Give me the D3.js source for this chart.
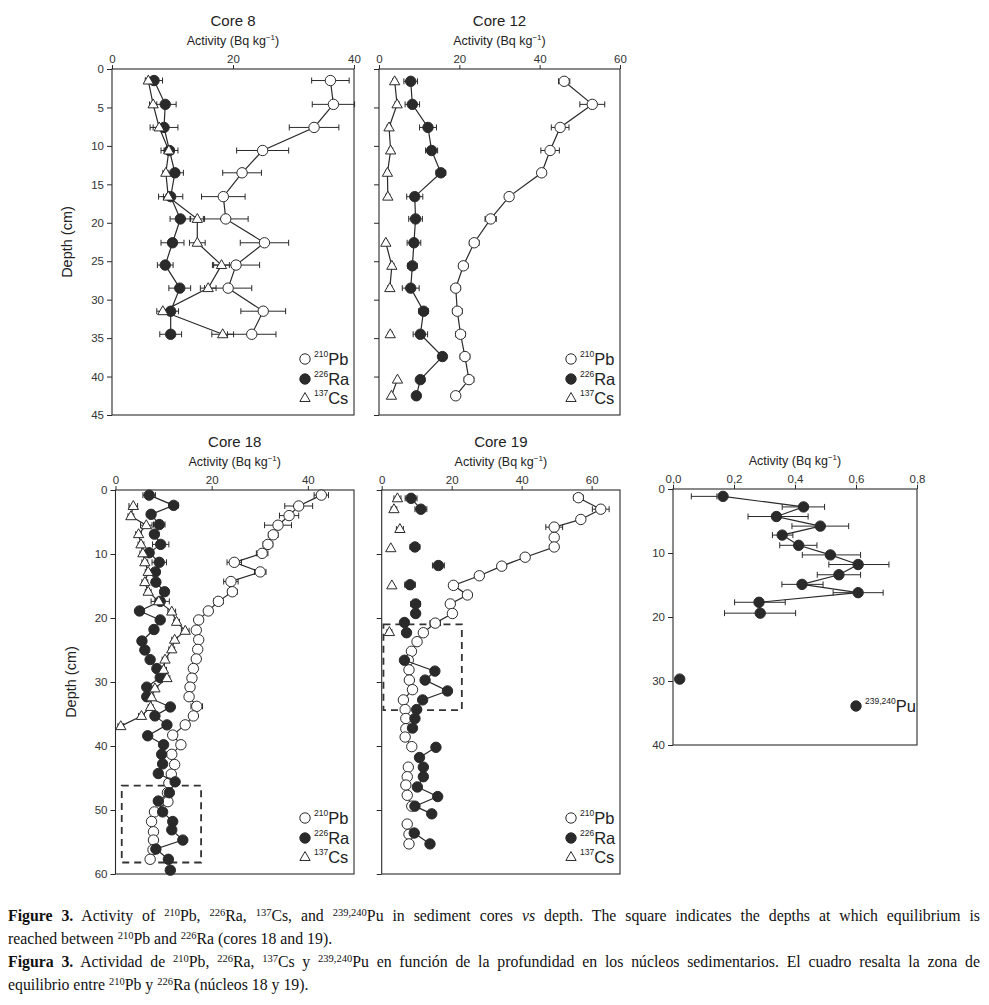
<!DOCTYPE html>
<html><head><meta charset="utf-8">
<script src="https://cdn.jsdelivr.net/npm/d3@7"></script>
<style>
html,body{margin:0;padding:0;background:#fff;overflow:hidden;}
#chart{position:absolute;left:0;top:0;}
#cap{position:absolute;left:8px;top:904px;width:972px;font-family:"Liberation Serif","Times New Roman",serif;font-size:15.8px;line-height:23px;color:#111;}
#cap div{white-space:nowrap;height:23px;}
#cap div.j{text-align:justify;text-align-last:justify;}
#cap sup{font-size:10.5px;line-height:0;vertical-align:5px;}
</style></head><body>
<svg id="chart" width="989" height="900"></svg>
<div id="cap"></div>
<script>
// ---------------- DATA ----------------
// Core 8
const core8Depth = [1.5, 4.6, 7.6, 10.6, 13.5, 16.6, 19.5, 22.6, 25.5, 28.5, 31.5, 34.5];
const core8Pb    = [36.1, 36.6, 33.4, 24.9, 21.5, 18.4, 18.8, 25.2, 20.5, 19.2, 25.0, 23.1];
const core8PbErr = [3.1, 3.5, 4.1, 4.3, 3.2, 3.6, 3.7, 4.0, 3.9, 3.9, 3.7, 4.0];
const core8Ra    = [6.95, 8.8, 8.6, 9.5, 10.4, 9.7, 11.3, 10.0, 8.8, 11.2, 9.7, 9.7];
const core8RaErr = [1.4, 1.8, 2.3, 1.4, 1.4, 2.0, 1.7, 1.9, 1.3, 1.8, 1.3, 1.8];
const core8Cs    = [6.0, 6.8, 7.8, 9.4, 8.9, 9.3, 14.1, 14.1, 18.1, 15.9, 8.4, 18.3];
const core8CsErr = [0.5, 0.6, 1.0, 0.8, 0.5, 0.8, 1.2, 1.3, 1.3, 1.3, 1.0, 1.8];

// Core 12
const core12Depth = [1.6, 4.6, 7.6, 10.6, 13.5, 16.6, 19.5, 22.6, 25.6, 28.5, 31.5, 34.5, 37.4, 40.4, 42.5];
const core12Pb    = [46.1, 53.1, 45.1, 42.6, 40.5, 32.4, 27.8, 23.7, 21.0, 19.1, 19.5, 20.3, 21.4, 22.4, 19.1];
const core12PbErr = [1.4, 3.1, 2.2, 2.3, 1.0, 1.0, 1.4, 1.2, 1.1, 1.1, 1.2, 1.2, 1.2, 1.2, 0];
const core12Ra    = [7.9, 8.3, 12.2, 13.1, 15.4, 8.9, 9.1, 8.7, 8.3, 7.9, 11.1, 10.3, 15.8, 10.3, 9.3];
const core12RaErr = [1.7, 1.8, 2.1, 1.5, 1.2, 2.0, 1.7, 1.7, 1.2, 2.1, 1.2, 1.8, 0, 0, 0];
const core12Cs    = [3.9, 4.5, 2.5, 2.9, 2.1, 2.2, null, 1.7, 3.2, 2.7, null, 2.8, null, 4.6, 3.1];
const core12CsErr = [0.5, 0.5, 0.5, 0.5, 0.5, 0.5, null, 0.4, 0.5, 0.5, null, 0.5, null, 0, 0];

// Core 18
const core18PbDepth = [0.8, 2.5, 4.0, 5.5, 7.0, 8.5, 9.9, 11.3, 12.8, 14.3, 15.9, 17.4, 18.9, 20.3, 21.9, 23.4, 24.9, 26.4, 27.9, 29.4, 30.8, 32.3, 33.8, 35.3, 36.7, 38.3, 39.8, 41.3, 42.9, 44.4, 45.8, 47.3, 48.7, 50.3, 51.8, 53.4, 54.7, 56.2, 57.7];
const core18Pb      = [42.8, 38.1, 36.1, 33.8, 32.8, 31.7, 30.5, 24.7, 30.1, 24.0, 24.3, 21.4, 19.3, 17.3, 16.8, 17.3, 17.1, 16.8, 16.2, 15.9, 15.5, 15.3, 16.9, 16.2, 14.5, 11.9, 13.6, 11.7, 12.3, 11.6, 11.1, 10.8, 10.9, 8.1, 7.5, 7.9, 7.9, 7.8, 7.2];
const core18PbErr   = [1.5, 2.9, 2.0, 2.8, 1.0, 1.0, 1.2, 1.5, 1.2, 1.5, 1.0, 1.0, 0, 0, 0, 0, 0, 0, 0, 0, 0, 0, 1.2, 0, 0, 0, 0, 0, 0, 0, 0, 0, 0, 0, 0, 0, 0, 0, 0];
const core18RaDepth = [0.8, 2.4, 3.8, 5.4, 6.9, 8.5, 9.8, 11.3, 12.8, 14.4, 15.9, 17.4, 18.9, 20.3, 21.8, 23.6, 25.0, 26.5, 27.9, 29.3, 30.8, 32.3, 33.9, 35.3, 36.7, 38.4, 39.8, 41.3, 42.8, 44.3, 45.6, 47.3, 48.6, 50.3, 51.8, 53.1, 54.7, 56.1, 57.7, 59.4];
const core18Ra      = [7.0, 12.1, 7.4, 9.1, 8.1, 9.4, 7.0, 9.1, 8.3, 8.4, 10.2, 9.3, 5.0, 9.3, 8.0, 5.5, 6.1, 7.2, 8.6, 9.3, 6.5, 6.5, 11.4, 8.2, 10.7, 6.7, 10.0, 9.6, 9.8, 8.9, 12.4, 11.2, 8.9, 9.8, 11.9, 11.7, 14.0, 8.4, 11.0, 11.4];
const core18RaErr   = [1.3, 1.0, 0.8, 1.2, 0.8, 1.7, 0, 1.5, 0.8, 0.8, 0.8, 1.9, 0, 0, 0, 0, 0, 0, 0, 0, 0, 0, 0, 0, 0, 0, 0, 0, 0, 0, 0, 0, 0, 0, 0, 0, 0, 0, 0, 0];
const core18CsDepth = [2.5, 4.1, 5.5, 6.9, 8.5, 9.9, 11.3, 12.8, 14.4, 15.9, 17.4, 19.0, 20.6, 22.0, 23.4, 24.9, 26.5, 28.1, 29.4, 31.0, 32.4, 33.9, 35.3, 36.9];
const core18Cs      = [3.7, 3.2, 6.4, 4.8, 5.3, 5.7, 6.1, 6.8, 6.1, 6.8, 9.0, 11.7, 12.7, 14.5, 12.3, 11.7, 10.3, 10.0, 10.7, 8.2, 7.5, 7.3, 5.4, 1.1];
const core18CsErr   = [0.9, 0.6, 1.2, 0.6, 0.6, 0.6, 0.6, 0.6, 0.6, 0.6, 0.8, 0.8, 0.6, 0.8, 0.6, 0.6, 0.6, 0.6, 0.6, 0.6, 0.5, 0.5, 0.6, 0.6];

// Core 19 (null = gap in the connecting line)
const core19PbDepth = [1.2, 3.0, 4.6, 5.8, 7.4, 8.9, 10.5, 11.9, 13.4, 14.9, 16.4, 17.8, 19.3, 20.8, 22.3, 23.7, 25.2, 26.6, 28.1, 29.7, 31.2, 32.8, 34.3, 35.7, 37.3, 38.6, 40.1, null, 43.3, 44.8, 46.1, 47.7, 49.4, null, 52.2, 53.8, 55.3];
const core19Pb      = [56.2, 62.6, 56.9, 49.3, 49.3, 49.3, 41.0, 34.3, 27.9, 20.5, 24.5, 19.6, 20.2, 15.3, 11.9, 10.1, 8.5, 7.6, 7.8, 7.9, 8.8, 6.2, 6.7, 6.9, 6.9, 6.7, 8.6, null, 7.6, 7.3, 6.9, 7.3, 8.6, null, 7.3, 7.8, 7.8];
const core19PbErr   = [1.4, 2.4, 1.0, 2.4, 1.0, 1.0, 1.2, 1.2, 1.2, 1.2, 1.2, 0.8, 0.8, 1.5, 1.0, 0, 0, 0, 0, 0, 0, 0, 0, 0, 0, 0, 0, null, 0, 0, 0, 0, 0, null, 0, 0, 0];
const core19RaDepth = [1.3, 3.0, null, 8.9, null, 11.8, null, 14.8, null, 17.8, 19.3, null, 20.7, 22.3, null, 26.6, 28.3, 29.7, 31.4, 32.8, 34.3, 35.7, 37.2, null, 40.2, 41.8, 43.3, 44.8, 46.4, 47.9, 49.4, 50.6, null, 53.6, 55.3];
const core19Ra      = [8.4, 11.2, null, 9.5, null, 16.2, null, 8.1, null, 9.7, 9.7, null, 6.5, 7.1, null, 6.5, 15.2, 12.4, 18.8, 11.7, 10.0, 9.5, 8.8, null, 15.5, 10.8, 11.9, 11.9, 10.2, 16.0, 9.5, 14.3, null, 9.3, 13.8];
const core19RaErr   = [1.7, 1.7, null, 1.4, null, 1.7, null, 1.5, null, 1.4, 0, null, 0, 0, null, 0, 0, 0, 0, 0, 0, 0, 0, null, 0, 0, 0, 0, 0, 0, 0, 0, null, 0, 0];
const core19CsDepth = [1.3, null, 3.0, null, 6.1, null, 9.1, null, 14.9, null, 22.2];
const core19Cs      = [4.5, null, 3.5, null, 5.2, null, 2.6, null, 2.9, null, 2.2];
const core19CsErr   = [1.0, null, 0.8, null, 1.0, null, 0, null, 0, null, 0.7];

// 239,240Pu
const puDepth = [1.15, 2.8, 4.3, 5.8, 7.2, 8.8, 10.3, 11.8, 13.4, 14.9, 16.2, 17.7, 19.4, null, 29.7];
const puValue = [0.164, 0.428, 0.339, 0.483, 0.358, 0.412, 0.516, 0.607, 0.544, 0.423, 0.607, 0.282, 0.286, null, 0.022];
const puLow   = [0.060, 0.358, 0.246, 0.390, 0.326, 0.350, 0.424, 0.511, 0.473, 0.357, 0.525, 0.202, 0.169, null, null];
const puHigh  = [0.144, 0.497, 0.443, 0.576, 0.393, 0.472, 0.615, 0.708, 0.615, 0.492, 0.689, 0.368, 0.402, null, null];

// Equilibrium boxes [activity range], [depth range]
const eq18Activity = [1.3, 17.8], eq18Depth = [46.2, 58.2];
const eq19Activity = [0.5, 22.9], eq19Depth = [21.0, 34.4];

// Ticks
const ticksCore8X = [0, 20, 40], ticksCore12X = [0, 20, 40, 60];
const ticksCore18X = [0, 20, 40], ticksCore19X = [0, 20, 40, 60];
const ticksPuX = [0, 0.2, 0.4, 0.6, 0.8];
const ticksTopY = [0, 5, 10, 15, 20, 25, 30, 35, 40, 45];
const ticksBottomY = [0, 10, 20, 30, 40, 50, 60];
const ticksPuY = [0, 10, 20, 30, 40];

const legendItems = [
  {type: 'open', sup: '210', name: 'Pb'},
  {type: 'filled', sup: '226', name: 'Ra'},
  {type: 'tri', sup: '137', name: 'Cs'}
];

const captionLines = [
  {j: true, html: '<b>Figure 3.</b> Activity of <sup>210</sup>Pb, <sup>226</sup>Ra, <sup>137</sup>Cs, and <sup>239,240</sup>Pu in sediment cores <i>vs</i> depth. The square indicates the depths at which equilibrium is'},
  {j: false, html: 'reached between <sup>210</sup>Pb and <sup>226</sup>Ra (cores 18 and 19).'},
  {j: true, html: '<b>Figura 3.</b> Actividad de <sup>210</sup>Pb, <sup>226</sup>Ra, <sup>137</sup>Cs y <sup>239,240</sup>Pu en función de la profundidad en los núcleos sedimentarios. El cuadro resalta la zona de'},
  {j: false, html: 'equilibrio entre <sup>210</sup>Pb y <sup>226</sup>Ra (núcleos 18 y 19).'}
];

// ---------------- DRAWING ----------------
const svg = d3.select('#chart');
const FONT = '"Liberation Sans", Arial, Helvetica, sans-serif';
const INK = '#2a2a2a';

function zip(depth, vals, errs) {
  return depth.map((d, i) => ({d: d, v: vals[i], e: errs ? errs[i] : 0}));
}

function drawMarker(g, type, cx, cy) {
  if (type === 'tri') {
    g.append('path').attr('d', d3.symbol(d3.symbolTriangle, 46)())
      .attr('transform', `translate(${cx},${cy + 0.5})`)
      .attr('fill', '#fff').attr('stroke', INK).attr('stroke-width', 1);
  } else {
    g.append('circle').attr('cx', cx).attr('cy', cy).attr('r', 5.2)
      .attr('fill', type === 'filled' ? INK : '#fff')
      .attr('stroke', INK).attr('stroke-width', 1);
  }
}

function errBar(g, x1, x2, cy) {
  g.append('line').attr('x1', x1).attr('x2', x2).attr('y1', cy).attr('y2', cy)
    .attr('stroke', INK).attr('stroke-width', 1);
  [x1, x2].forEach(xx => g.append('line').attr('x1', xx).attr('x2', xx)
    .attr('y1', cy - 3).attr('y2', cy + 3).attr('stroke', INK).attr('stroke-width', 1));
}

function panel(o) {
  const x = d3.scaleLinear().domain([0, o.xMax]).range([o.left, o.right]);
  const y = d3.scaleLinear().domain([0, o.yMax]).range([o.top, o.bottom]);
  const g = svg.append('g');

  const ax = g.append('g').attr('transform', `translate(0,${o.top})`)
    .call(d3.axisTop(x).tickValues(o.xTicks).tickSize(4).tickPadding(2).tickSizeOuter(0)
      .tickFormat(o.xFmt || d3.format('d')));
  const ay = g.append('g').attr('transform', `translate(${o.left},0)`)
    .call(d3.axisLeft(y).tickValues(o.yTicks).tickSize(5).tickPadding(3).tickSizeOuter(0)
      .tickFormat(o.yLabels ? d3.format('d') : () => ''));
  [ax, ay].forEach(a => {
    a.select('.domain').remove();
    a.selectAll('line').attr('stroke', INK).attr('stroke-width', 1);
    a.selectAll('text').attr('font-family', FONT).attr('font-size', 11.5).attr('fill', '#333');
  });

  g.append('rect').attr('x', o.left).attr('y', o.top)
    .attr('width', o.right - o.left).attr('height', o.bottom - o.top)
    .attr('fill', 'none').attr('stroke', INK).attr('stroke-width', 1.1);

  const cx = (o.left + o.right) / 2;
  if (o.title) {
    g.append('text').attr('x', cx).attr('y', o.top - 43).attr('text-anchor', 'middle')
      .attr('font-family', FONT).attr('font-size', 15).attr('fill', '#222').text(o.title);
  }
  const at = g.append('text').attr('x', cx).attr('y', o.top - 24).attr('text-anchor', 'middle')
    .attr('font-family', FONT).attr('font-size', 12.5).attr('fill', '#222');
  at.append('tspan').text('Activity (Bq kg');
  at.append('tspan').attr('font-size', 8).attr('dy', -5).text('\u22121');
  at.append('tspan').attr('dy', 5).text(')');

  if (o.depthLabel) {
    const ym = (o.top + o.bottom) / 2;
    g.append('text').attr('transform', `translate(${o.left - 40},${ym}) rotate(-90)`)
      .attr('text-anchor', 'middle').attr('font-family', FONT).attr('font-size', 14.5)
      .attr('fill', '#222').text('Depth (cm)');
  }

  if (o.box) {
    g.append('rect').attr('x', x(o.box.a[0])).attr('y', y(o.box.d[0]))
      .attr('width', x(o.box.a[1]) - x(o.box.a[0])).attr('height', y(o.box.d[1]) - y(o.box.d[0]))
      .attr('fill', 'none').attr('stroke', '#333').attr('stroke-width', 1.8)
      .attr('stroke-dasharray', '7,5');
  }

  const line = d3.line().defined(p => p.v != null).x(p => x(p.v)).y(p => y(p.d));
  o.series.forEach(s => {
    const sg = g.append('g');
    sg.append('path').attr('d', line(s.pts)).attr('fill', 'none')
      .attr('stroke', INK).attr('stroke-width', 1.2);
    s.pts.forEach(p => {
      if (p.v == null) return;
      if (s.lo) {
        if (p.lo != null) errBar(sg, x(p.lo), x(p.hi), y(p.d));
      } else if (p.e) {
        errBar(sg, x(p.v - p.e), x(p.v + p.e), y(p.d));
      }
    });
    s.pts.forEach(p => { if (p.v != null) drawMarker(sg, s.type, x(p.v), y(p.d)); });
  });

  if (o.legend) {
    const lx = o.right - 49;
    o.legend.forEach((it, i) => {
      const ly = o.bottom - [56, 36, 17][i];
      drawMarker(g, it.type, lx, ly);
      const t = g.append('text').attr('x', lx + 9).attr('y', ly + 6)
        .attr('font-family', FONT).attr('fill', '#222');
      t.append('tspan').attr('font-size', 8.5).attr('dy', -8).text(it.sup);
      t.append('tspan').attr('font-size', 16.5).attr('dy', 8).text(it.name);
    });
  }
  if (o.puLegend) {
    const lx = o.right - 61, ly = o.bottom - 39;
    drawMarker(g, 'filled', lx, ly);
    const t = g.append('text').attr('x', lx + 9).attr('y', ly + 6)
      .attr('font-family', FONT).attr('fill', '#222');
    t.append('tspan').attr('font-size', 8.5).attr('dy', -8).text('239,240');
    t.append('tspan').attr('font-size', 16.5).attr('dy', 8).text('Pu');
  }
}

panel({left: 112, right: 354, top: 69, bottom: 415, xMax: 40, yMax: 45,
  xTicks: ticksCore8X, yTicks: ticksTopY, yLabels: true, depthLabel: true, title: 'Core 8',
  legend: legendItems,
  series: [
    {type: 'open', pts: zip(core8Depth, core8Pb, core8PbErr)},
    {type: 'filled', pts: zip(core8Depth, core8Ra, core8RaErr)},
    {type: 'tri', pts: zip(core8Depth, core8Cs, core8CsErr)}
  ]});

panel({left: 379, right: 620, top: 69, bottom: 415, xMax: 60, yMax: 45,
  xTicks: ticksCore12X, yTicks: ticksTopY, yLabels: false, title: 'Core 12',
  legend: legendItems,
  series: [
    {type: 'open', pts: zip(core12Depth, core12Pb, core12PbErr)},
    {type: 'filled', pts: zip(core12Depth, core12Ra, core12RaErr)},
    {type: 'tri', pts: zip(core12Depth, core12Cs, core12CsErr)}
  ]});

panel({left: 115.5, right: 354, top: 490, bottom: 874, xMax: 49.6, yMax: 60,
  xTicks: ticksCore18X, yTicks: ticksBottomY, yLabels: true, depthLabel: true, title: 'Core 18',
  legend: legendItems, box: {a: eq18Activity, d: eq18Depth},
  series: [
    {type: 'open', pts: zip(core18PbDepth, core18Pb, core18PbErr)},
    {type: 'filled', pts: zip(core18RaDepth, core18Ra, core18RaErr)},
    {type: 'tri', pts: zip(core18CsDepth, core18Cs, core18CsErr)}
  ]});

panel({left: 381.7, right: 620, top: 490, bottom: 874, xMax: 68.1, yMax: 60,
  xTicks: ticksCore19X, yTicks: ticksBottomY, yLabels: false, title: 'Core 19',
  legend: legendItems, box: {a: eq19Activity, d: eq19Depth},
  series: [
    {type: 'open', pts: zip(core19PbDepth, core19Pb, core19PbErr)},
    {type: 'filled', pts: zip(core19RaDepth, core19Ra, core19RaErr)},
    {type: 'tri', pts: zip(core19CsDepth, core19Cs, core19CsErr)}
  ]});

panel({left: 673, right: 917, top: 489, bottom: 745, xMax: 0.8, yMax: 40,
  xTicks: ticksPuX, yTicks: ticksPuY, yLabels: true, xFmt: v => d3.format('.1f')(v).replace('.', ','),
  puLegend: true,
  series: [
    {type: 'filled', lo: true, pts: puDepth.map((d, i) => ({d: d, v: puValue[i], lo: puLow[i], hi: puHigh[i]}))}
  ]});

d3.select('#cap').selectAll('div').data(captionLines).join('div')
  .attr('class', d => d.j ? 'j' : null).html(d => d.html);
</script>
</body></html>
